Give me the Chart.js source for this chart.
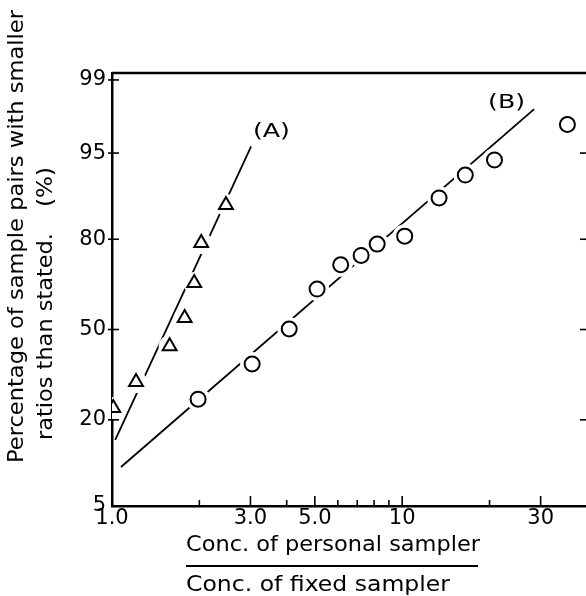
<!DOCTYPE html>
<html>
<head>
<meta charset="utf-8">
<script src="https://cdn.jsdelivr.net/npm/chart.js@4/dist/chart.umd.min.js"></script>
<style>
  html, body { margin: 0; padding: 0; background: #fff; }
  canvas { display: block; }
</style>
</head>
<body>
<canvas id="probChart" width="586" height="596"></canvas>
<script>
// ratio of personal / fixed sampler concentrations, and cumulative percentage
const ratioA = [1.01, 1.21, 1.58, 1.78, 1.92, 2.03, 2.47];
const pctA   = [23.2, 31.2, 43.8, 54.3, 66.8, 79.0, 87.7];
const ratioB = [1.98, 3.04, 4.08, 5.09, 6.14, 7.22, 8.20, 10.2, 13.4, 16.5, 20.8, 37.1];
const pctB   = [25.8, 37.4, 50.2, 64.7, 72.7, 75.5, 78.7, 80.8, 89.0, 92.5, 94.3, 97.2];

// fitted lines (end points)
const fitRatioA = [1.026, 3.016];
const fitPctA   = [15.2, 95.6];
const fitRatioB = [1.074, 28.5];
const fitPctB   = [10.0, 98.0];

// axes
const xTicks = [1, 3, 5, 10, 30];
const xTickLabels = ['1.0', '3.0', '5.0', '10', '30'];
const xMinorTicks = [2, 4, 6, 7, 8, 9, 20];
const yTicks = [5, 20, 50, 80, 95, 99];
const xMin = 1, xMax = 43;
const yMinPct = 5, yMaxPct = 99.16;

// curve labels
const labelA = { text: '(A)', ratio: 3.53, pct: 96.7 };
const labelB = { text: '(B)', ratio: 22.8, pct: 98.26 };

// inverse normal CDF (Acklam)
function probit(pct) {
  const p = pct / 100;
  const a = [-39.69683028665376, 220.9460984245205, -275.9285104469687, 138.3577518672690, -30.66479806614716, 2.506628277459239];
  const b = [-54.47609879822406, 161.5858368580409, -155.6989798598866, 66.80131188771972, -13.28068155288572];
  const c = [-0.007784894002430293, -0.3223964580411365, -2.400758277161838, -2.549732539343734, 4.374664141464968, 2.938163982698783];
  const d = [0.007784695709041462, 0.3224671290700398, 2.445134137142996, 3.754408661907416];
  const plow = 0.02425;
  let q, r;
  if (p < plow) {
    q = Math.sqrt(-2 * Math.log(p));
    return (((((c[0]*q+c[1])*q+c[2])*q+c[3])*q+c[4])*q+c[5]) / ((((d[0]*q+d[1])*q+d[2])*q+d[3])*q+1);
  }
  if (p <= 1 - plow) {
    q = p - 0.5; r = q * q;
    return (((((a[0]*r+a[1])*r+a[2])*r+a[3])*r+a[4])*r+a[5])*q / (((((b[0]*r+b[1])*r+b[2])*r+b[3])*r+b[4])*r+1);
  }
  q = Math.sqrt(-2 * Math.log(1 - p));
  return -(((((c[0]*q+c[1])*q+c[2])*q+c[3])*q+c[4])*q+c[5]) / ((((d[0]*q+d[1])*q+d[2])*q+d[3])*q+1);
}

const toPoints = (xs, ps) => xs.map((x, i) => ({ x: x, y: probit(ps[i]) }));
const FONT = 'DejaVu Sans';

// draw text from (x,y) of the current transform, stretched to a given width
function fitText(ctx, text, x, y, width) {
  const w = ctx.measureText(text).width;
  ctx.save();
  ctx.translate(x, y);
  ctx.scale(width / w, 1);
  ctx.fillText(text, 0, 0);
  ctx.restore();
}

// frame, inward ticks, curve labels and axis titles
const framePlugin = {
  id: 'frame',
  afterDraw(chart) {
    const { ctx, chartArea: ca, scales: { x, y } } = chart;
    ctx.save();
    ctx.strokeStyle = '#000';
    ctx.fillStyle = '#000';

    // top border
    ctx.lineWidth = 2.5;
    ctx.beginPath();
    ctx.moveTo(ca.left, ca.top);
    ctx.lineTo(ca.right, ca.top);
    ctx.stroke();

    ctx.lineWidth = 1.6;
    // left ticks crossing the axis
    yTicks.forEach(p => {
      if (p === yMinPct) return;
      const py = y.getPixelForValue(probit(p));
      ctx.beginPath();
      ctx.moveTo(ca.left - 4, py);
      ctx.lineTo(ca.left + 7, py);
      ctx.stroke();
    });
    // right-hand ticks
    [20, 50, 80, 95].forEach(p => {
      const py = y.getPixelForValue(probit(p));
      ctx.beginPath();
      ctx.moveTo(ca.right - 6, py);
      ctx.lineTo(ca.right, py);
      ctx.stroke();
    });
    // bottom ticks pointing up
    xTicks.concat(xMinorTicks).forEach(v => {
      if (v === xMin) return;
      const px = x.getPixelForValue(v);
      const len = xTicks.includes(v) ? 10 : 6;
      ctx.beginPath();
      ctx.moveTo(px, ca.bottom);
      ctx.lineTo(px, ca.bottom - len);
      ctx.stroke();
    });

    // curve labels
    ctx.font = '20px "' + FONT + '"';
    ctx.textAlign = 'left';
    ctx.textBaseline = 'middle';
    [labelA, labelB].forEach(l => {
      fitText(ctx, l.text, x.getPixelForValue(l.ratio) - 18, y.getPixelForValue(probit(l.pct)), 37);
    });

    // y title (two rotated lines)
    ctx.font = '21px "' + FONT + '"';
    ctx.save();
    ctx.translate(18, 463);
    ctx.rotate(-Math.PI / 2);
    fitText(ctx, 'Percentage of sample pairs with smaller', 0, 0, 453);
    ctx.restore();
    ctx.save();
    ctx.translate(47, 440);
    ctx.rotate(-Math.PI / 2);
    fitText(ctx, 'ratios than stated.', 0, 0, 207);
    fitText(ctx, '(%)', 233, 0, 40);
    ctx.restore();

    // x title as a fraction
    ctx.textBaseline = 'alphabetic';
    fitText(ctx, 'Conc. of personal sampler', 186, 551, 294);
    ctx.lineWidth = 2;
    ctx.beginPath();
    ctx.moveTo(186, 566);
    ctx.lineTo(478, 566);
    ctx.stroke();
    fitText(ctx, 'Conc. of fixed sampler', 186, 591, 264);
    ctx.restore();
  }
};

new Chart(document.getElementById('probChart'), {
  type: 'scatter',
  data: {
    datasets: [
      { data: toPoints(fitRatioA, fitPctA), showLine: true, borderColor: '#000', borderWidth: 1.8, pointRadius: 0, order: 3 },
      { data: toPoints(fitRatioB, fitPctB), showLine: true, borderColor: '#000', borderWidth: 1.8, pointRadius: 0, order: 3 },
      // white gaps in the lines around the markers
      { data: toPoints(ratioA, pctA), pointStyle: 'circle', pointRadius: 11, pointBackgroundColor: '#fff', pointBorderWidth: 0, order: 2 },
      { data: toPoints(ratioB, pctB), pointStyle: 'circle', pointRadius: 12, pointBackgroundColor: '#fff', pointBorderWidth: 0, order: 2 },
      { data: toPoints(ratioA, pctA), pointStyle: 'triangle', pointRadius: 8, pointBackgroundColor: '#fff', pointBorderColor: '#000', pointBorderWidth: 2, order: 1 },
      { data: toPoints(ratioB, pctB), pointStyle: 'circle', pointRadius: 7.5, pointBackgroundColor: '#fff', pointBorderColor: '#000', pointBorderWidth: 2, order: 1 }
    ]
  },
  options: {
    responsive: false,
    animation: false,
    layout: { autoPadding: false, padding: { top: 73, right: 0, left: 0, bottom: 0 } },
    plugins: { legend: { display: false }, tooltip: { enabled: false } },
    scales: {
      x: {
        type: 'logarithmic',
        min: xMin,
        max: xMax,
        grid: { display: false, drawTicks: false, tickLength: 0 },
        border: { display: true, color: '#000', width: 2.5 },
        afterBuildTicks: s => { s.ticks = xTicks.map(v => ({ value: v })); },
        afterFit: s => { s.height = 90; s.paddingLeft = 0; s.paddingRight = 0; },
        ticks: {
          color: '#000',
          padding: 0,
          autoSkip: false,
          maxRotation: 0,
          font: { family: FONT, size: 21 },
          callback: (v) => xTickLabels[xTicks.indexOf(v)]
        }
      },
      y: {
        type: 'linear',
        min: probit(yMinPct),
        max: probit(yMaxPct),
        grid: { display: false, drawTicks: false, tickLength: 0 },
        border: { display: true, color: '#000', width: 2.5 },
        afterBuildTicks: s => { s.ticks = yTicks.map(p => ({ value: probit(p) })); },
        afterFit: s => { s.width = 112; s.paddingTop = 0; s.paddingBottom = 0; },
        ticks: {
          color: '#000',
          padding: 6,
          font: { family: FONT, size: 21 },
          callback: (v, i) => String(yTicks[i])
        }
      }
    }
  },
  plugins: [framePlugin]
});
</script>
</body>
</html>
